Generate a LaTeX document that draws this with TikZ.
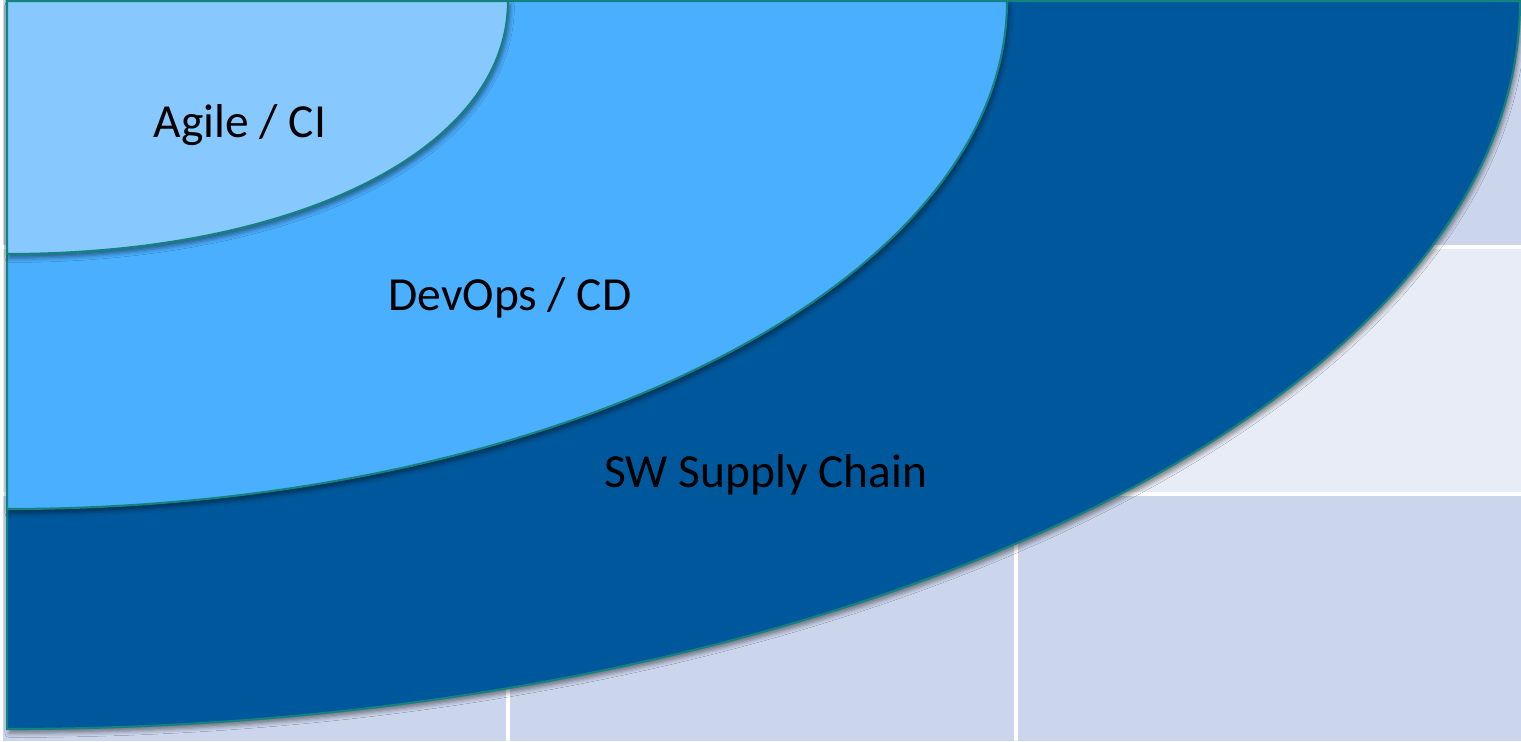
\documentclass[tikz,border=0pt]{standalone}
\usepackage{fontspec}
\setmainfont{Carlito}
\usetikzlibrary{shadows.blur}

\definecolor{cellDark}{HTML}{CBD5EC}
\definecolor{cellLight}{HTML}{E8ECF6}
\definecolor{agileBlue}{HTML}{87C8FF}
\definecolor{devopsBlue}{HTML}{4AAFFF}
\definecolor{chainBlue}{HTML}{00589C}
\definecolor{ringEdge}{HTML}{14827F}

\tikzset{
  ring/.style={draw=ringEdge, line width=0.6pt,
    blur shadow={shadow xshift=0.6pt, shadow yshift=-1.2pt, shadow blur radius=1.2pt, shadow opacity=45}},
  ringtext/.style={font=\fontsize{13.5}{16}\selectfont, text=black, anchor=base, inner sep=0pt}
}

\begin{document}
\begin{tikzpicture}[x=0.01cm, y=-0.01cm]
  \useasboundingbox (0,0) rectangle (1521,741);
  % table in the back
  \fill[white] (0,0) rectangle (1521,741);
  \fill[cellDark] (3,0) rectangle (1521,247);
  \fill[cellLight] (3,247) rectangle (1521,494);
  \fill[cellDark] (3,494) rectangle (1521,741);
  \foreach \y in {247,494}
    \draw[white, line width=0.9pt] (3,\y) -- (1521,\y);
  \foreach \x in {508,1016}
    \draw[white, line width=0.9pt] (\x,0) -- (\x,741);

  % outer ring
  \path[ring, fill=chainBlue] (7,1) -- (1520,1)
    .. controls (1520,403) and (843,729) .. (7,729) -- cycle;
  % middle ring
  \path[ring, fill=devopsBlue] (7,1) -- (1007,1)
    .. controls (1007,282) and (559,509) .. (7,509) -- cycle;
  % inner ring
  \path[ring, fill=agileBlue] (7,1) -- (508,1)
    .. controls (508,148) and (300,254) .. (7,254) -- cycle;

  \node[ringtext] (agile) at (240,137) {Agile / CI};
  \node[ringtext] (devops) at (510,310) {DevOps / CD};
  \node[ringtext] (chain) at (766,487) {SW Supply Chain};
\end{tikzpicture}
\end{document}
